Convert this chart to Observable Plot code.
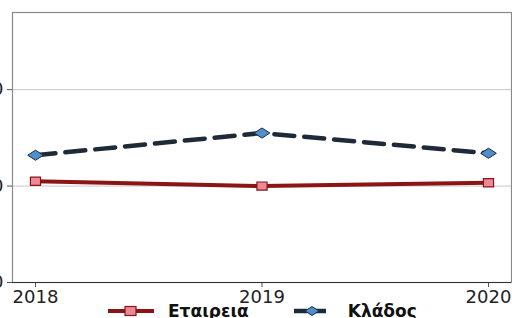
<!DOCTYPE html>
<html><head><meta charset="utf-8">
<script src="https://cdn.jsdelivr.net/npm/d3@7"></script>
<script src="https://cdn.jsdelivr.net/npm/@observablehq/plot@0.6"></script>
<style>
body{margin:0;background:#fff;overflow:hidden;font-family:"DejaVu Sans",sans-serif;}
#legend{display:flex;align-items:center;height:20px;margin-top:-3px;font-weight:bold;font-size:17px;color:#111;}
.item{display:flex;align-items:center;}
</style>
</head><body>
<div id="chart"></div>
<div id="legend"></div>
<script>
const years = [2018, 2019, 2020];
const companyName = "Εταιρεια";
const sectorName = "Κλάδος";
const company = [1.05, 1.00, 1.035];
const sector = [1.32, 1.55, 1.34];
const yTicks = [0, 1, 2];

const rows = [];
years.forEach((y, i) => {
  rows.push({year: y, value: company[i], series: companyName});
  rows.push({year: y, value: sector[i], series: sectorName});
});
const comp = rows.filter(d => d.series === companyName);
const sect = rows.filter(d => d.series === sectorName);

const wideDiamond = {draw(ctx, size) {
  const w = Math.sqrt(size) * 0.8, h = Math.sqrt(size) * 0.52;
  ctx.moveTo(-w, 0); ctx.lineTo(0, -h); ctx.lineTo(w, 0); ctx.lineTo(0, h); ctx.closePath();
}};
const rectSym = {draw(ctx, size) {
  const w = Math.sqrt(size) * 0.52, h = Math.sqrt(size) * 0.42;
  ctx.rect(-w, -h, 2 * w, 2 * h);
}};

const plot = Plot.plot({
  width: 512, height: 304,
  marginLeft: 12, marginRight: 1, marginTop: 12, marginBottom: 22,
  style: {fontFamily: "DejaVu Sans, sans-serif", fontSize: "18px", color: "#222", overflow: "visible"},
  x: {type: "linear", domain: [2018, 2020], inset: 23, ticks: years, tickFormat: d3.format("d"), tickSize: 5, label: null},
  y: {domain: [0, 2.8], ticks: yTicks, tickSize: 5, label: null},
  marks: [
    Plot.gridY(yTicks.filter(d => d > 0), {stroke: "#c8c8c8", strokeOpacity: 1, strokeWidth: 1}),
    Plot.frame({stroke: "#8a8a8a", strokeWidth: 1.2}),
    Plot.axisX({ticks: years, tickFormat: d3.format("d"), tickSize: 5, tickPadding: 3, stroke: "#555"}),
    Plot.axisY({ticks: yTicks, tickSize: 5, tickPadding: 4, stroke: "#555", textAnchor: "end"}),
    Plot.ruleX([2018], {x: () => 0, stroke: "#333", strokeWidth: 1.2}),
    Plot.line(comp, {x: "year", y: "value", stroke: "#8b1515", strokeWidth: 4}),
    Plot.line(sect, {x: "year", y: "value", stroke: "#1e2a38", strokeWidth: 4.5, strokeDasharray: "20,10"}),
    Plot.dot(comp, {x: "year", y: "value", symbol: rectSym, r: 5.5, fill: "#e88a98", stroke: "#8b1515", strokeWidth: 1.2}),
    Plot.dot(sect, {x: "year", y: "value", symbol: wideDiamond, r: 5.5, fill: "#4f8fd0", stroke: "#1e2a38", strokeWidth: 1}),
    Plot.ruleY([0], {stroke: "#333", strokeWidth: 1.2})
  ]
});
document.getElementById("chart").appendChild(plot);

const leg = document.getElementById("legend");
leg.innerHTML = `
<div class="item" style="margin-left:108px">
  <svg width="46" height="14"><line x1="0" y1="7" x2="46" y2="7" stroke="#8b1515" stroke-width="4"/>
  <rect x="17" y="2.5" width="11" height="9" fill="#e88a98" stroke="#8b1515" stroke-width="1.2"/></svg>
  <span style="margin-left:14px">${companyName}</span></div>
<div class="item" style="margin-left:45px">
  <svg width="36" height="14"><line x1="0" y1="7" x2="36" y2="7" stroke="#1e2a38" stroke-width="4.5" stroke-dasharray="13,6"/>
  <path d="M11,7 L18,2.5 L25,7 L18,11.5Z" fill="#4f8fd0" stroke="#1e2a38" stroke-width="1"/></svg>
  <span style="margin-left:18px">${sectorName}</span></div>`;
</script>
</body></html>
